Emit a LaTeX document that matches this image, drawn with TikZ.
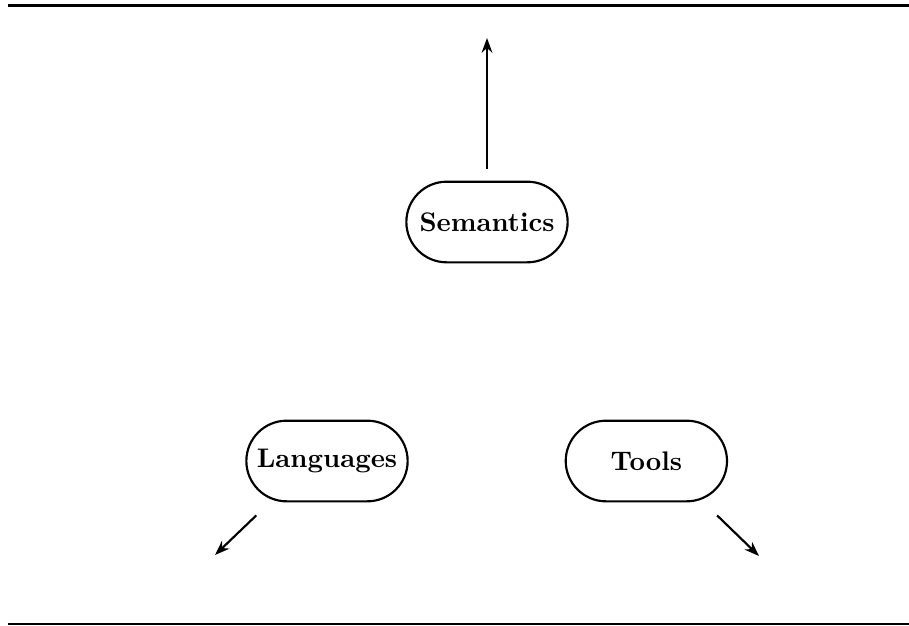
\documentclass[tikz,border=0pt]{standalone}
\usepackage{tikz}
\usetikzlibrary{arrows.meta, positioning, calc}
\tikzset{
  topic/.style={rectangle, rounded corners=15pt, minimum width=60pt, minimum height=30pt, text centered, draw=black, thick, font=\bfseries},
  arrow/.style={thick,->,>={Stealth[length=5.5pt,width=4pt]}},
  rule/.style={draw=black}
}

\begin{document}
\begin{tikzpicture}[x=0.372pt, y=-0.372pt]
        \useasboundingbox (0,0) rectangle (909,625);

        % Rules
        \draw [rule, line width=1.1pt] (8,5.5) -- (909,5.5);
        \draw [rule, line width=0.8pt] (8,624) -- (909,624);

        % Nodes
        \node (semantics) [topic] at (487,222) {Semantics};
        \node (languages) [topic] at (327,461) {Languages};
        \node (tools) [topic, right=58pt of languages] {Tools};

        % Free ends
        \coordinate (sem_out) at (487,38);
        \coordinate (lang_out) at (215,555);
        \coordinate (tools_out) at (759,556);

        % Paths
        \draw [arrow] ([yshift=4.5pt]semantics.north) -- (sem_out);
        \draw [arrow] ([shift={(11,13)}]languages.south west) -- (lang_out);
        \draw [arrow] ([shift={(-11,13)}]tools.south east) -- (tools_out);
\end{tikzpicture}
\end{document}
